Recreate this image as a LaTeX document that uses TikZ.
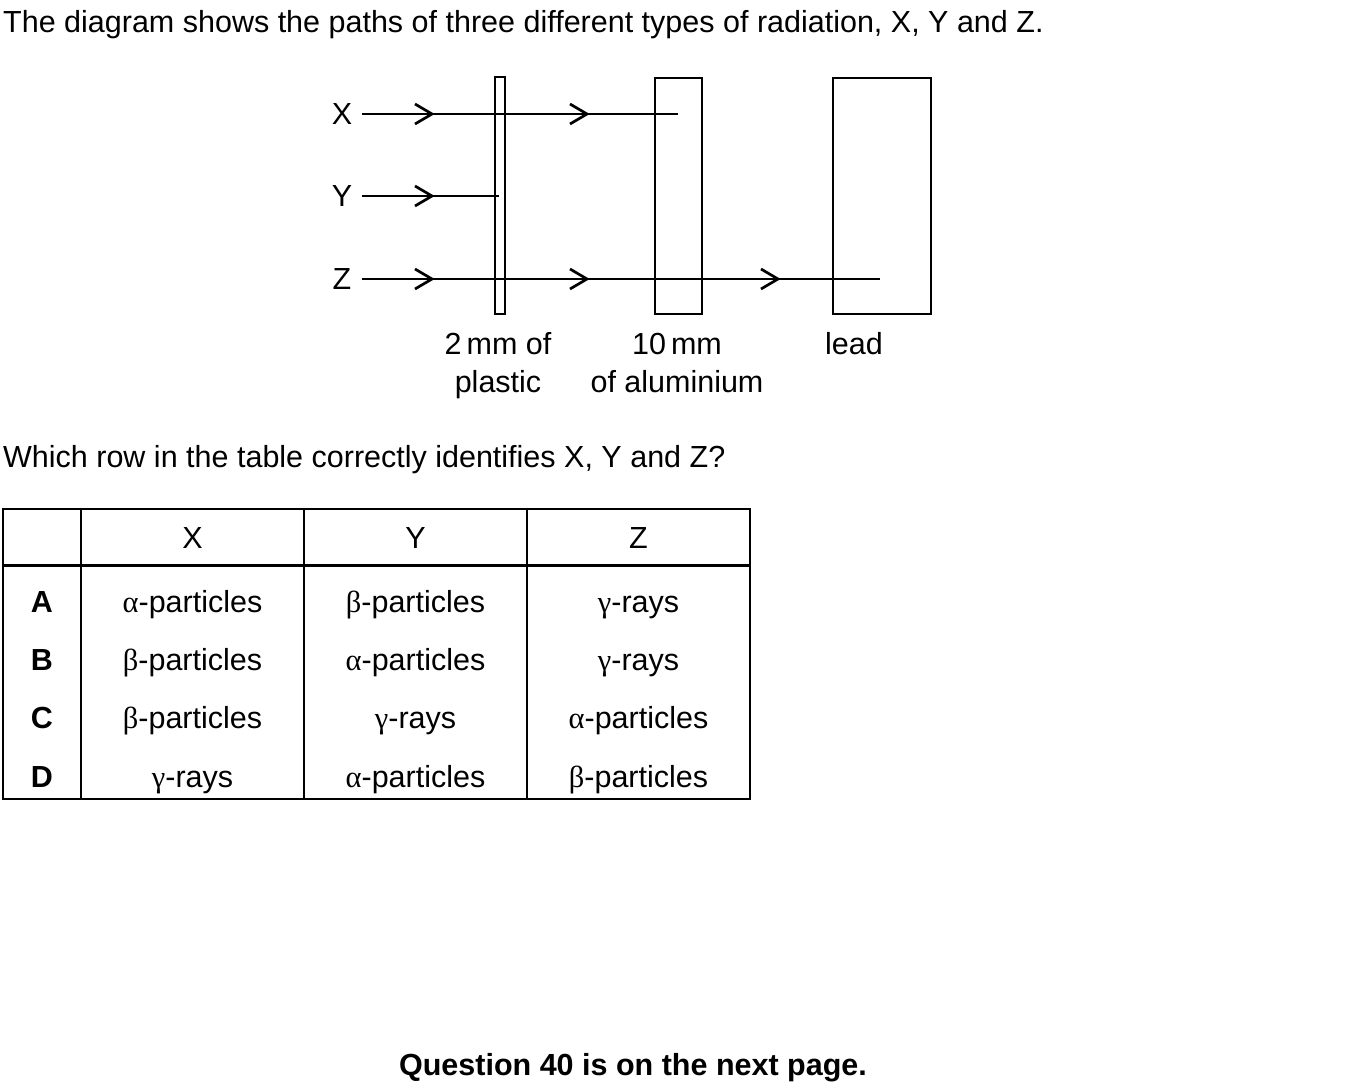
\documentclass[tikz,border=0pt]{standalone}
\usepackage{fontspec}
\setmainfont{Liberation Sans}
\newfontfamily\grk{Liberation Serif}
\begin{document}
\begin{tikzpicture}[x=1pt,y=-1pt,
  txt/.style={inner sep=0pt,font=\fontsize{30.5}{36}\selectfont},
  ray/.style={line width=2.7pt},
  slab/.style={draw,line width=2.7pt},
  tline/.style={line width=2pt},
  chev/.pic={\draw[line width=2.7pt] (-17,-10)--(0,0)--(-17,10);}]
\useasboundingbox (0,0) rectangle (1355,1091);
% title
\node[txt,anchor=base west] (title) at (3,33) {The diagram shows the paths of three different types of radiation, X, Y and Z.};
% slabs
\draw[slab] (495,77) rectangle (505,314);
\draw[slab] (655,78) rectangle (702,314);
\draw[slab] (833,78) rectangle (931,314);
% labels
\node[txt,anchor=base] (lx) at (342,125) {X};
\node[txt,anchor=base] (ly) at (342,207) {Y};
\node[txt,anchor=base] (lz) at (342,290) {Z};
\coordinate (xs) at (362,114);
\coordinate (xe) at (678,114);
\coordinate (ys) at (362,196);
\coordinate (ye) at (499,196);
\coordinate (zs) at (362,279);
\coordinate (ze) at (880,279);
\draw[ray] (xs) -- (xe);
\draw[ray] (ys) -- (ye);
\draw[ray] (zs) -- (ze);
\pic at (432,114) {chev};
\pic at (587,114) {chev};
\pic at (432,196) {chev};
\pic at (432,279) {chev};
\pic at (587,279) {chev};
\pic at (778,279) {chev};
% slab labels
\node[txt,anchor=base] (p1) at (498,355) {2\,mm of};
\node[txt,anchor=base] (p2) at (498,392) {plastic};
\node[txt,anchor=base] (a1) at (677,355) {10\,mm};
\node[txt,anchor=base] (a2) at (677,392) {of aluminium};
\node[txt,anchor=base] (pb) at (854,355) {lead};
% question
\node[txt,anchor=base west] (q) at (3,467) {Which row in the table correctly identifies X, Y and Z?};
% table
\draw[tline] (3,509) rectangle (750,799);
\draw[line width=3pt] (3,565) -- (750,565);
\foreach \cx in {81,304,527} \draw[tline] (\cx,509) -- (\cx,799);
\node[txt,anchor=base] (hx) at (192.5,548) {X};
\node[txt,anchor=base] (hy) at (415.5,548) {Y};
\node[txt,anchor=base] (hz) at (638.5,548) {Z};
\def\pa{{\grk α}-particles}
\def\pb{{\grk β}-particles}
\def\pg{{\grk γ}-rays}
\node[txt,anchor=base,font=\fontsize{30.5}{36}\selectfont\bfseries] (ra) at (42,612) {A};
\node[txt,anchor=base,font=\fontsize{30.5}{36}\selectfont\bfseries] (rb) at (42,670) {B};
\node[txt,anchor=base,font=\fontsize{30.5}{36}\selectfont\bfseries] (rc) at (42,728) {C};
\node[txt,anchor=base,font=\fontsize{30.5}{36}\selectfont\bfseries] (rd) at (42,787) {D};
\node[txt,anchor=base] (a-x) at (192.5,612) {\pa};
\node[txt,anchor=base] (a-y) at (415.5,612) {\pb};
\node[txt,anchor=base] (a-z) at (638.5,612) {\pg};
\node[txt,anchor=base] (b-x) at (192.5,670) {\pb};
\node[txt,anchor=base] (b-y) at (415.5,670) {\pa};
\node[txt,anchor=base] (b-z) at (638.5,670) {\pg};
\node[txt,anchor=base] (c-x) at (192.5,728) {\pb};
\node[txt,anchor=base] (c-y) at (415.5,728) {\pg};
\node[txt,anchor=base] (c-z) at (638.5,728) {\pa};
\node[txt,anchor=base] (d-x) at (192.5,787) {\pg};
\node[txt,anchor=base] (d-y) at (415.5,787) {\pa};
\node[txt,anchor=base] (d-z) at (638.5,787) {\pb};
% footer
\node[txt,anchor=base,font=\fontsize{30.5}{36}\selectfont\bfseries] (foot) at (633,1075) {Question 40 is on the next page.};
\end{tikzpicture}
\end{document}
